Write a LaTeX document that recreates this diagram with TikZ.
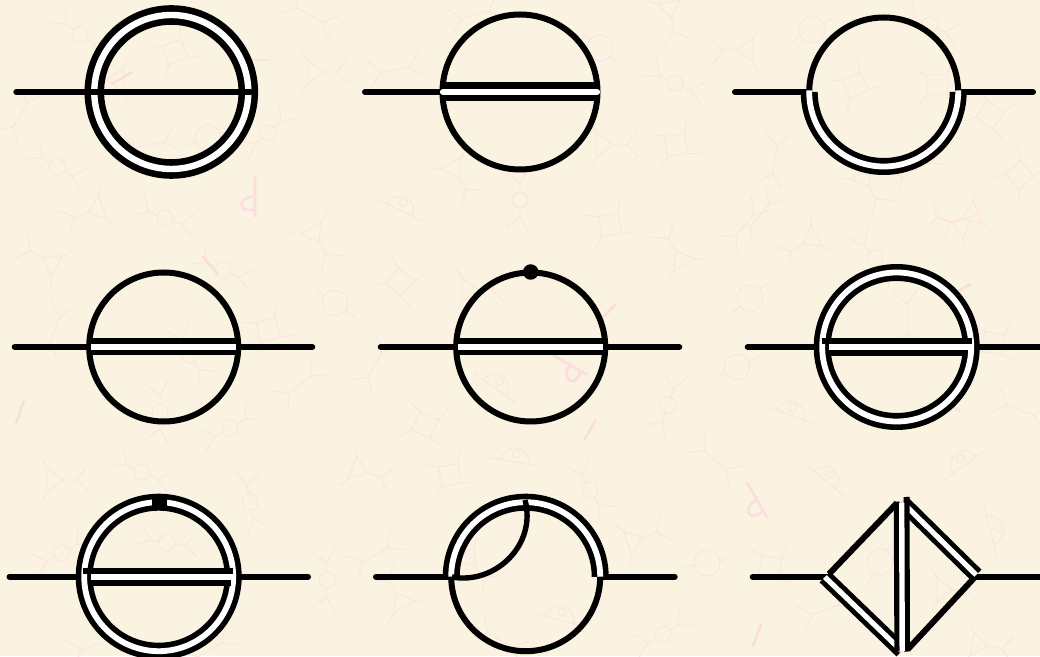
\documentclass[tikz,border=0pt]{standalone}
\definecolor{paper}{HTML}{FBF3E2}
\definecolor{wm}{HTML}{FBE3DF}
\definecolor{wmd}{HTML}{FADDDC}
\tikzset{
  x=1pt,y=1pt,
  wml/.style={draw=wm,line width=0.9pt},
  wig/.style={draw=wmd,line width=2.6pt,dash pattern=on 1.2pt off 0.3pt},
  ext/.style={draw=black,line width=6pt,line cap=round},
  thin loop/.style={draw=black,line width=6pt},
  band/.style={draw=black,line width=17pt},
  bandw/.style={draw=white,line width=5.8pt},
  bar/.style={draw=black,line width=6pt},
}
% watermark motifs: position x, y (downward), rotation
\newcommand\wmpos[3]{\begin{scope}[shift={(#1,656-#2)},rotate=#3]}
\newcommand\wmbub[3]{\wmpos{#1}{#2}{#3}\draw[wml] (0,0) circle[radius=8] (-8,0)--(-17,0)--(-27,14) (-17,0)--(-32,-8) (8,0)--(17,0)--(27,14) (17,0)--(32,-8);\end{scope}}
\newcommand\wmbox[3]{\wmpos{#1}{#2}{#3}\draw[wml] (-10,-10) rectangle (10,10) (-10,-10)--(-18,-20) (-10,10)--(-22,14) (10,10)--(14,24) (10,-10)--(24,-12);\end{scope}}
\newcommand\wmtri[3]{\wmpos{#1}{#2}{#3}\draw[wml] (-8,0)--(8,12)--(8,-12)--cycle (-8,0)--(-22,0)--(-34,12) (-22,0)--(-32,-14) (8,12)--(14,22) (8,-12)--(14,-22);\end{scope}}
\newcommand\wmfork[3]{\wmpos{#1}{#2}{#3}\draw[wml] (-14,0)--(14,0) (-14,0)--(-26,14) (-14,0)--(-26,-12) (14,0)--(26,14) (14,0)--(28,-10);\end{scope}}
\newcommand\wmcirc[3]{\wmpos{#1}{#2}{#3}\draw[wml] (0,0) circle[radius=13] (-13,0)--(-24,0) (13,0)--(24,0);\end{scope}}
\newcommand\wmhalf[3]{\wmpos{#1}{#2}{#3}\draw[wml] (-26,0)--(26,0) (-14,0) arc[start angle=180,end angle=0,radius=14] (0,8) circle[radius=4];\end{scope}}
\newcommand\wmwig[3]{\wmpos{#1}{#2}{#3}\draw[wig] (-12,0)--(12,0);\end{scope}}
\newcommand\wmloop[3]{\wmpos{#1}{#2}{#3}\draw[wig] (0,20)--(0,-20) (0,0) .. controls (-18,2) and (-18,-18) .. (0,-12);\end{scope}}
\begin{document}
\begin{tikzpicture}
\useasboundingbox (0,0) rectangle (1040,656);
\clip (0,0) rectangle (1040,656);
\fill[paper] (0,0) rectangle (1040,656);
% ---- watermark ----
\wmbub{80}{34}{-35}\wmbox{175}{52}{20}\wmtri{115}{80}{0}\wmtri{315}{72}{180}\wmbub{57}{167}{-30}
\wmbub{268}{133}{40}\wmcirc{208}{138}{20}\wmloop{255}{197}{0}\wmfork{20}{115}{60}\wmfork{150}{145}{10}
\wmtri{95}{210}{20}\wmbub{165}{218}{-20}\wmfork{310}{15}{-30}\wmwig{258}{60}{0}\wmwig{122}{78}{30}
\wmfork{395}{70}{10}\wmfork{475}{15}{15}\wmcirc{600}{48}{-40}\wmbub{675}{83}{-25}\wmtri{455}{170}{120}
\wmbub{520}{200}{90}\wmhalf{400}{210}{-25}\wmbox{676}{145}{8}\wmtri{605}{145}{180}\wmtri{670}{10}{100}
\wmtri{745}{50}{0}\wmcirc{812}{30}{30}\wmbub{930}{25}{-25}\wmbox{855}{85}{25}\wmbox{937}{85}{0}\wmbox{990}{115}{-35}
\wmfork{775}{160}{80}\wmtri{865}{180}{120}\wmbox{1020}{175}{40}\wmfork{915}{170}{30}\wmfork{760}{215}{50}\wmtri{970}{215}{20}
\wmtri{50}{262}{-30}\wmbub{223}{270}{-25}\wmbox{268}{330}{15}\wmcirc{335}{303}{-35}\wmbub{160}{412}{90}\wmfork{300}{385}{40}
\wmwig{20}{412}{70}\wmbub{230}{428}{30}\wmtri{315}{235}{120}\wmbub{190}{355}{-60}\wmwig{210}{265}{-50}\wmfork{55}{330}{70}
\wmbox{400}{282}{-40}\wmtri{470}{290}{180}\wmbox{610}{225}{10}\wmtri{680}{258}{-60}\wmfork{375}{365}{60}\wmhalf{495}{388}{-35}
\wmloop{570}{365}{60}\wmbub{668}{405}{70}\wmbox{425}{425}{-25}\wmwig{590}{430}{60}\wmwig{608}{312}{45}
\wmfork{745}{225}{50}\wmtri{810}{240}{30}\wmbub{875}{258}{-50}\wmtri{960}{225}{-20}\wmcirc{750}{298}{40}\wmcirc{737}{367}{25}
\wmfork{907}{318}{90}\wmbox{993}{343}{-10}\wmhalf{790}{415}{-20}\wmfork{1020}{410}{-20}\wmwig{960}{290}{30}\wmwig{950}{405}{-30}
\wmtri{55}{480}{180}\wmbub{142}{472}{-25}\wmbub{62}{553}{30}\wmbub{167}{543}{-10}\wmbub{250}{502}{-80}\wmbub{327}{580}{90}\wmfork{95}{645}{20}\wmfork{210}{650}{30}
\wmtri{360}{470}{160}\wmbox{450}{475}{10}\wmhalf{515}{462}{-10}\wmbub{590}{490}{-60}\wmfork{375}{555}{30}\wmtri{470}{560}{130}\wmtri{400}{600}{-60}
\wmtri{635}{540}{200}\wmhalf{560}{620}{-15}\wmbub{663}{634}{30}\wmfork{500}{640}{-30}
\wmfork{715}{460}{-40}\wmhalf{825}{480}{-40}\wmloop{757}{500}{30}\wmhalf{990}{530}{-75}\wmcirc{707}{563}{10}\wmbox{770}{567}{-10}
\wmcirc{880}{562}{60}\wmtri{945}{590}{180}\wmhalf{965}{465}{35}\wmfork{825}{610}{20}\wmtri{980}{645}{170}\wmwig{757}{635}{70}
% ---- named anchors ----
\coordinate (c1) at (171.3,564);
\coordinate (c2) at (520,564);
\coordinate (c3) at (883.7,564);
\coordinate (c4) at (163.7,309);
\coordinate (c5) at (530.7,309);
\coordinate (c6) at (896.7,309);
\coordinate (c7) at (158.7,79.3);
\coordinate (c8) at (525.7,79.3);
% --- diagram 1
\coordinate (a1) at (16.3,564); \coordinate (b1) at (250,564);
\draw[draw=black,line width=19.6pt] (c1) circle[radius=77pt];
\draw[draw=white,line width=6.4pt] (c1) circle[radius=77pt];
\draw[ext] (a1) -- (b1);
% --- diagram 2
\coordinate (a2) at (365,564); \coordinate (b2) at (443,564); \coordinate (d2) at (597,564);
\draw[thin loop] (c2) circle[radius=77.5pt];
\draw[ext] (a2) -- (b2);
\draw[draw=black,line width=19pt] (441,564) -- (599,564);
\draw[draw=white,line width=6.2pt,line cap=round] (b2) -- (d2);
% --- diagram 3
\coordinate (a3) at (735,564); \coordinate (b3) at (806,564); \coordinate (d3) at (962,564); \coordinate (e3) at (1033,564);
\draw[thin loop] (c3) circle[radius=74.5pt];
\draw[ext] (a3) -- (b3);
\draw[ext] (d3) -- (e3);
\draw[band] ([shift={(180:74.5pt)}]c3) arc[start angle=180,end angle=360,radius=74.5pt];
\draw[bandw] ([shift={(180:74.5pt)}]c3) ++(0,1.5) -- ++(0,-1.5) arc[start angle=180,end angle=360,radius=74.5pt] -- ++(0,1.5);
% --- diagram 4
\coordinate (a4) at (14.7,309); \coordinate (b4) at (312.3,309);
\draw[ext] (a4) -- (b4);
\draw[thin loop] (c4) circle[radius=74.5pt];
\draw[draw=black,line width=17pt] (89,309) -- (238.5,309);
\fill[white] (90.7,306.1) rectangle (236,311.9);
% --- diagram 5
\coordinate (a5) at (380.7,309); \coordinate (b5) at (679.3,309);
\draw[ext] (a5) -- (b5);
\draw[thin loop] (c5) circle[radius=74.5pt];
\draw[draw=black,line width=17pt] (456,309) -- (605.5,309);
\fill[white] (457.7,306.1) rectangle (603,311.9);
\node[circle,fill=black,inner sep=0pt,minimum size=15.5pt] (dot5) at (530.7,384) {};
% --- diagram 6
\coordinate (a6) at (747.7,309); \coordinate (b6) at (1043,309);
\draw[ext] (a6) -- (b6);
\draw[band] (c6) circle[radius=74.5pt];
\draw[bandw] (c6) circle[radius=74.5pt];
\draw[bar] (821.7,314.8) -- (971.7,314.8);
\draw[bar] (829,303.2) -- (967,303.2);
\fill[white] (829,306.1) rectangle (972,311.9);
% --- diagram 7
\coordinate (a7) at (9.5,79.3); \coordinate (b7) at (308,79.3);
\draw[ext] (a7) -- (b7);
\draw[band] (c7) circle[radius=74.5pt];
\draw[bandw] (c7) circle[radius=74.5pt];
\fill[black] (151.5,147.5) rectangle (166.5,162.5);
\draw[bar] (83.3,85.1) -- (233,85.1);
\draw[bar] (90.7,73.5) -- (230.5,73.5);
\fill[white] (90.7,76.4) rectangle (234,82.2);
% --- diagram 8
\coordinate (a8) at (376,79.3); \coordinate (b8) at (674.7,79.3);
\draw[ext] (a8) -- (450,79.3);
\draw[ext] (602,79.3) -- (b8);
\draw[thin loop] (c8) circle[radius=74.5pt];
\draw[band] ([shift={(180:74.5pt)}]c8) arc[start angle=180,end angle=0,radius=74.5pt];
\draw[bandw] ([shift={(180:74.5pt)}]c8) arc[start angle=180,end angle=0,radius=74.5pt];
\coordinate (p8) at (525,156); \coordinate (q8) at (452,79);
\draw[draw=black,line width=5.4pt] (p8) .. controls (537,111) and (495,71) .. (q8);
% --- diagram 9
\coordinate (a9) at (752.7,79.3); \coordinate (L9) at (826.7,79.3);
\coordinate (R9) at (977,79.3); \coordinate (b9) at (1043,79.3);
\coordinate (T9) at (897,153); \coordinate (B9) at (908,7);
\draw[ext] (a9) -- (L9);
\draw[ext] (R9) -- (b9);
\draw[draw=black,line width=6pt] (829,82) -- (T9);
\draw[draw=black,line width=6pt] (975,79) -- (B9);
\draw[draw=black,line width=15pt] (824.8,79) -- (901.7,5);
\draw[draw=white,line width=5.2pt] (824.8,79) -- (901.7,5);
\draw[draw=black,line width=15pt] (902,154) -- (976.2,81);
\draw[draw=white,line width=5.2pt] (902,154) -- (976.2,81);
\draw[draw=black,line width=6pt] (896.7,154.3) -- (897.4,4.5);
\draw[draw=black,line width=6pt] (906.5,159) -- (907,4.5);
\draw[draw=white,line width=5.4pt] (901.7,153) -- (902.2,5);
\end{tikzpicture}
\end{document}
